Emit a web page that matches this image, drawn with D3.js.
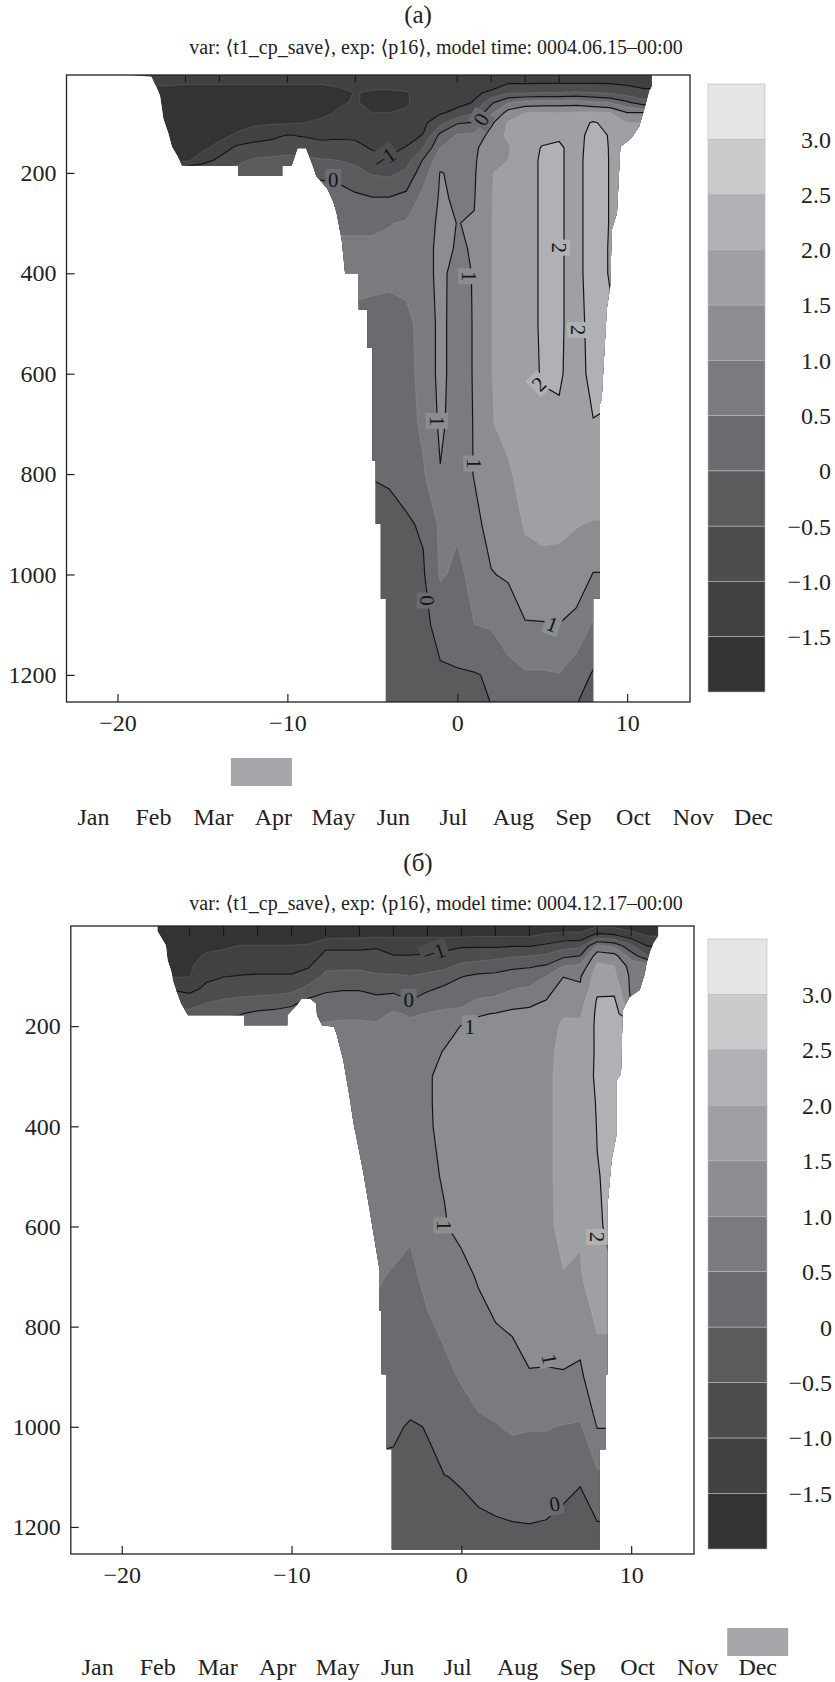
<!DOCTYPE html>
<html>
<head>
<meta charset="utf-8">
<script src="https://cdn.jsdelivr.net/npm/d3@7"></script>
<style>
  body { margin: 0; background: #fff; }
</style>
</head>
<body>
<script>
// ---- data ----
var gridCols = [-20,-19,-18,-17,-16,-15,-14,-13,-12,-11,-10,-9,-8,-7,-6,-5,-4,-3,-2,-1,0,1,2,3,4,5,6,7,8,9,10,11,12];
var depthRows = [0,20,40,60,80,100,125,150,175,200,250,300,350,400,500,600,700,800,900,1000,1100,1200,1250];

var levels = [-1.5,-1,-0.5,0,0.5,1,1.5,2,2.5,3];
var bandColors = ["#323334","#404143","#4c4d4f","#5a5b5d","#6a6b6e","#7a7b7e","#8c8d90","#9fa0a3","#b0b1b4","#cacbcd","#e4e5e7"];
var colorbarLabels = ["3.0","2.5","2.0","1.5","1.0","0.5","0","\u22120.5","\u22121.0","\u22121.5"];
var depthTicks = [200,400,600,800,1000,1200];
var xTicks = [-20,-10,0,10];
var months = ["Jan","Feb","Mar","Apr","May","Jun","Jul","Aug","Sep","Oct","Nov","Dec"];

// temperature, panel (a): one string per depth row, columns = gridCols, "." = outside data
var tempA = [
"-1.6 -1.6 -1.5 -1.3 -1.3 -1.3 -1.3 -1.3 -1.3 -1.3 -1.3 -1.3 -1.3 -1.2 -1.2 -1.2 -1.2 -1.2 -1.2 -1.2 -1.2 -1.2 -1.2 -1.2 -1.2 -1.2 -1.2 -1.2 -1.2 -1.2 -1.2 -1.2 .",
". . -1.45 -1.45 -1.45 -1.45 -1.45 -1.45 -1.45 -1.45 -1.45 -1.45 -1.45 -1.4 -1.4 -1.35 -1.35 -1.35 -1.25 -1.2 -1.2 -1.15 -1.15 -1.05 -1.05 -1.05 -1.05 -1.05 -1.05 -1.05 -1.1 -1.15 .",
". . . -1.6 -1.7 -1.7 -1.7 -1.7 -1.7 -1.7 -1.7 -1.7 -1.7 -1.62 -1.48 -1.55 -1.55 -1.52 -1.38 -1.25 -1.15 -1.05 -0.95 -0.55 -0.55 -0.5 -0.5 -0.45 -0.5 -0.6 -0.75 -0.9 .",
". . . -1.7 -1.7 -1.7 -1.7 -1.7 -1.7 -1.7 -1.7 -1.7 -1.7 -1.55 -1.47 -1.6 -1.6 -1.55 -1.3 -1.2 -1.1 -0.98 -0.1 0.5 0.7 0.75 0.75 0.8 0.6 0.5 0.1 -0.3 .",
". . . -1.7 -1.7 -1.7 -1.7 -1.7 -1.7 -1.7 -1.7 -1.68 -1.62 -1.45 -1.4 -1.5 -1.5 -1.45 -1.2 -1.05 -0.9 -0.55 0.4 1.2 1.5 1.5 1.5 1.55 1.6 1.5 1.0 . .",
". . . -1.7 -1.7 -1.7 -1.7 -1.65 -1.6 -1.55 -1.55 -1.5 -1.4 -1.3 -1.3 -1.35 -1.35 -1.3 -1.1 -0.7 -0.05 0.02 0.9 1.55 1.75 1.8 1.8 1.8 2.05 1.85 1.5 . .",
". . . -1.7 -1.7 -1.65 -1.62 -1.45 -1.25 -1.15 -0.98 -1.05 -1.1 -1.07 -1.1 -1.2 -1.25 -1.15 -0.98 0.15 0.55 0.6 1.2 1.6 1.8 1.9 1.92 1.85 2.15 1.97 1.8 . .",
". . . -1.7 -1.7 -1.6 -1.35 -0.9 -0.8 -0.75 -0.7 -0.7 -0.85 -0.85 -0.85 -1.05 -1.1 -0.98 -0.5 0.5 0.8 0.85 1.45 1.45 1.85 2.02 2.08 1.8 2.25 1.97 . . .",
". . . -1.65 -1.6 -1.25 -0.85 -0.6 -0.45 -0.4 -0.35 -0.4 -0.45 -0.5 -0.6 -0.8 -0.95 -0.7 0.05 0.8 0.9 0.92 1.48 1.5 1.85 2.05 2.08 1.8 2.3 1.97 . . .",
". . . . . . . -0.35 -0.2 -0.15 -0.1 -0.1 -0.1 -0.15 -0.35 -0.55 -0.6 -0.4 0.3 1.02 0.92 0.95 1.48 1.65 1.85 2.05 2.08 1.8 2.3 1.97 . . .",
". . . . . . . . . . . . 0.25 0.2 0.1 0.02 0.02 0.15 0.65 1.05 0.95 0.98 1.48 1.75 1.85 2.05 2.08 1.8 2.3 1.97 . . .",
". . . . . . . . . . . . 0.45 0.45 0.45 0.45 0.48 0.55 0.8 1.08 0.995 1.02 1.48 1.8 1.85 2.05 2.08 1.8 2.3 1.97 . . .",
". . . . . . . . . . . . 0.55 0.55 0.55 0.55 0.6 0.7 0.85 1.1 0.97 1.02 1.48 1.8 1.85 2.05 2.08 1.8 2.3 1.95 . . .",
". . . . . . . . . . . . 0.6 0.6 0.62 0.6 0.62 0.68 0.85 1.1 0.85 1.03 1.48 1.8 1.85 2.05 2.08 1.8 2.3 1.95 . . .",
". . . . . . . . . . . . 0.4 0.4 0.4 0.38 0.3 0.35 0.7 1.12 0.8 1.03 1.48 1.8 1.85 2.05 2.08 1.8 2.2 2.1 . . .",
". . . . . . . . . . . . 0.3 0.3 0.3 0.25 0.25 0.3 0.7 1.12 0.8 1.03 1.48 1.8 1.85 2.03 2.06 1.8 2.15 2.1 . . .",
". . . . . . . . . . . . 0.25 0.25 0.25 0.22 0.25 0.3 0.6 1.08 0.8 1.02 1.48 1.6 1.85 1.9 1.92 1.85 1.98 1.95 . . .",
". . . . . . . . . . . . 0.05 0.05 0.05 0.02 0.05 0.15 0.45 0.98 0.75 1.02 1.4 1.45 1.65 1.75 1.8 1.75 1.85 1.85 . . .",
". . . . . . . . . . . . -0.15 -0.15 -0.15 -0.15 -0.12 -0.05 0.05 0.6 0.55 0.88 1.15 1.25 1.55 1.56 1.55 1.52 1.47 1.47 . . .",
". . . . . . . . . . . . -0.25 -0.25 -0.25 -0.25 -0.2 -0.15 -0.05 0.55 0.42 0.6 0.98 1.05 1.3 1.42 1.42 1.3 0.98 0.98 . . .",
". . . . . . . . . . . . -0.3 -0.3 -0.3 -0.3 -0.3 -0.25 -0.15 0.2 0.3 0.5 0.55 0.75 0.97 0.97 0.99 0.85 0.45 0.45 . . .",
". . . . . . . . . . . . -0.3 -0.3 -0.3 -0.3 -0.3 -0.28 -0.2 -0.08 -0.05 -0.03 0.05 0.35 0.45 0.45 0.48 0.25 -0.05 -0.05 . . .",
". . . . . . . . . . . . -0.3 -0.3 -0.3 -0.3 -0.3 -0.28 -0.22 -0.12 -0.1 -0.08 0.01 0.25 0.35 0.38 0.4 0.02 -0.1 -0.1 . . ."
];

// temperature, panel (б)
var tempB = [
". . -1.8 -1.8 -1.8 -1.8 -1.8 -1.8 -1.8 -1.8 -1.8 -1.8 -1.8 -1.8 -1.8 -1.8 -1.8 -1.8 -1.8 -1.8 -1.8 -1.8 -1.8 -1.8 -1.8 -1.8 -1.8 -1.8 -1.55 -1.6 -1.8 -1.8 .",
". . -1.8 -1.8 -1.8 -1.75 -1.75 -1.75 -1.7 -1.7 -1.7 -1.7 -1.65 -1.6 -1.6 -1.55 -1.55 -1.55 -1.55 -1.55 -1.55 -1.52 -1.52 -1.52 -1.52 -1.4 -1.3 -1.3 -0.8 -0.9 -1.2 -1.5 .",
". . . -1.75 -1.7 -1.6 -1.55 -1.48 -1.48 -1.48 -1.48 -1.45 -1.1 -1.1 -1.1 -1.05 -1.2 -1.2 -1.15 -1.1 -1.05 -1.05 -1.05 -1.02 -1.02 -0.9 -0.7 -0.6 0.6 0.4 -0.4 -1.02 .",
". . . -1.7 -1.6 -1.45 -1.4 -1.35 -1.35 -1.35 -1.35 -1.3 -0.85 -0.85 -0.85 -0.85 -0.98 -0.98 -0.95 -0.9 -0.75 -0.7 -0.65 -0.55 -0.5 -0.4 -0.1 0.02 1.3 1.2 0.3 -0.5 .",
". . . -1.65 -1.55 -1.3 -1.25 -1.2 -1.2 -1.2 -1.2 -1.05 -0.6 -0.6 -0.6 -0.65 -0.7 -0.75 -0.7 -0.6 -0.4 -0.3 -0.2 -0.1 -0.05 0.05 0.5 0.6 1.6 1.5 0.8 . .",
". . . -1.55 -1.52 -1.1 -1.02 -0.98 -0.95 -0.95 -0.95 -0.8 -0.4 -0.35 -0.35 -0.45 -0.45 -0.5 -0.4 -0.3 -0.02 0.08 0.1 0.2 0.25 0.5 0.98 0.95 1.75 1.6 0.9 . .",
". . . -1.05 -1.15 -0.9 -0.75 -0.7 -0.7 -0.7 -0.65 -0.35 -0.1 -0.05 -0.05 -0.15 -0.15 -0.25 -0.1 0.1 0.2 0.3 0.35 0.48 0.55 0.8 1.2 1.05 1.9 1.85 0.9 . .",
". . . -0.7 -0.75 -0.55 -0.45 -0.4 -0.35 -0.3 -0.15 0.1 0.2 0.25 0.25 0.15 0.25 0.02 0.3 0.4 0.4 0.55 0.6 0.8 0.9 1.02 1.35 1.3 2.05 2.1 0.95 . .",
". . . -0.4 -0.35 -0.2 -0.1 -0.02 0.1 0.15 0.2 0.35 0.4 0.45 0.45 0.4 0.55 0.45 0.52 0.55 0.6 0.95 1.02 1.1 1.1 1.15 1.45 1.45 2.1 2.2 1.5 . .",
". . . . . . . 0.2 0.3 0.35 0.4 0.52 0.55 0.55 0.55 0.55 0.62 0.6 0.65 0.75 1.02 1.15 1.15 1.2 1.2 1.25 1.6 1.58 2.1 2.25 . . .",
". . . . . . . . . . . . 0.65 0.65 0.65 0.65 0.7 0.72 0.8 1.03 1.15 1.2 1.25 1.3 1.3 1.35 1.65 1.65 2.08 2.25 . . .",
". . . . . . . . . . . . 0.7 0.7 0.72 0.72 0.75 0.8 0.96 1.1 1.2 1.22 1.28 1.32 1.35 1.4 1.65 1.65 2.1 2.2 . . .",
". . . . . . . . . . . . 0.72 0.72 0.75 0.75 0.78 0.82 0.96 1.1 1.2 1.22 1.28 1.35 1.35 1.4 1.65 1.6 2.05 2.15 . . .",
". . . . . . . . . . . . 0.75 0.75 0.78 0.78 0.8 0.85 0.96 1.08 1.2 1.22 1.28 1.35 1.35 1.4 1.65 1.6 2.02 2.1 . . .",
". . . . . . . . . . . . 0.8 0.8 0.8 0.82 0.85 0.88 0.95 1.02 1.18 1.22 1.28 1.35 1.35 1.4 1.65 1.6 1.98 2.1 . . .",
". . . . . . . . . . . . 0.85 0.85 0.85 0.8 0.7 0.55 0.8 0.98 1.08 1.22 1.28 1.32 1.32 1.4 1.62 1.55 1.95 2.1 . . .",
". . . . . . . . . . . . 0.55 0.55 0.55 0.55 0.45 0.42 0.6 0.8 0.9 1.03 1.2 1.25 1.25 1.35 1.48 1.45 1.9 2.0 . . .",
". . . . . . . . . . . . 0.4 0.4 0.4 0.4 0.35 0.35 0.45 0.56 0.75 0.9 0.98 1.05 1.15 1.2 1.3 1.1 1.55 1.55 . . .",
". . . . . . . . . . . . 0.3 0.3 0.3 0.3 0.25 0.3 0.3 0.42 0.53 0.62 0.7 0.8 0.97 0.95 0.95 0.95 1.2 1.2 . . .",
". . . . . . . . . . . . 0.15 0.15 0.15 0.15 0.08 -0.05 0.02 0.25 0.35 0.45 0.48 0.55 0.52 0.52 0.48 0.45 1.02 1.02 . . .",
". . . . . . . . . . . . -0.15 -0.15 -0.15 -0.15 -0.12 -0.1 -0.08 -0.01 0.03 0.12 0.18 0.25 0.3 0.3 0.12 0.03 0.4 0.4 . . .",
". . . . . . . . . . . . -0.2 -0.2 -0.2 -0.2 -0.2 -0.2 -0.15 -0.12 -0.1 -0.08 -0.05 -0.03 -0.02 -0.05 -0.1 -0.12 -0.05 -0.05 . . .",
". . . . . . . . . . . . -0.2 -0.2 -0.2 -0.2 -0.2 -0.2 -0.18 -0.15 -0.12 -0.1 -0.08 -0.06 -0.05 -0.08 -0.12 -0.15 -0.1 -0.1 . . ."
];

// outline of the area that has data, [x, depth]
var maskA = [[-19.6,0],[11.45,0],[11.45,28],[11.3,36],[11.1,62],[10.9,85],[10.7,108],[10.3,128],[10.1,135],[9.6,148],
  [9.4,280],[9.1,313],[9.0,426],[8.8,472],[8.5,651],[8.4,660],[8.4,1048],[8.0,1048],[8.0,1260],[-4.2,1260],[-4.2,1048],
  [-4.5,1048],[-4.5,899],[-4.8,899],[-4.8,773],[-5.0,773],[-5.0,548],[-5.3,548],[-5.3,472],[-5.8,472],[-5.8,400],[-6.6,400],
  [-6.8,333],[-7.1,280],[-7.3,257],[-7.65,231],[-8.3,206],[-8.5,186],[-8.9,151],[-9.4,151],[-9.75,186],[-10.3,186],
  [-10.3,206],[-12.9,206],[-12.9,186],[-16.2,186],[-16.5,165],[-16.8,148],[-17.0,122],[-17.3,92],[-17.5,46],[-17.75,26],
  [-18.0,8],[-19.6,5]];
var maskB = [[-17.9,0],[11.6,0],[11.6,19],[11.3,35],[11.1,52],[10.9,75],[10.8,95],[10.5,128],[9.9,142],[9.5,168],
  [9.4,294],[9.15,308],[9.15,414],[8.85,467],[8.6,560],[8.6,895],[8.5,895],[8.5,1045],[8.15,1045],[8.15,1245],[-4.1,1245],
  [-4.1,1045],[-4.4,1045],[-4.4,895],[-4.7,895],[-4.7,769],[-4.85,769],[-4.85,680],[-5.4,567],[-5.8,487],[-6.15,427],
  [-6.35,394],[-6.55,348],[-6.95,268],[-7.35,215],[-7.5,201],[-8.2,198],[-8.5,178],[-8.55,155],[-8.9,145],[-9.4,145],
  [-9.7,158],[-10.25,178],[-10.25,198],[-12.8,198],[-12.8,178],[-16.1,178],[-16.5,155],[-16.75,132],[-16.95,112],
  [-17.1,89],[-17.3,69],[-17.4,39],[-17.9,10]];

// contour labels
var labelsA = [
  {v:-4.3, d:171, t:"\u22121", a:-35}, {v:-7.3, d:214, t:"0", a:0}, {v:1.4, d:93, t:"0", a:-60},
  {v:0.7, d:406, t:"1", a:90}, {v:-1.2, d:694, t:"1", a:90}, {v:1.0, d:779, t:"1", a:90},
  {v:5.6, d:1099, t:"1", a:20}, {v:-1.74, d:1052, t:"0", a:90},
  {v:6.0, d:349, t:"2", a:90}, {v:7.1, d:513, t:"2", a:90}, {v:4.8, d:620, t:"2", a:-45}
];
var labelsB = [
  {v:-1.6, d:53, t:"\u22121", a:-20}, {v:-3.1, d:147, t:"0", a:0}, {v:0.5, d:200, t:"1", a:0},
  {v:-1.0, d:598, t:"1", a:90}, {v:8.0, d:621, t:"2", a:90}, {v:5.2, d:865, t:"1", a:80},
  {v:5.5, d:1154, t:"0", a:-10}
];

// short contour stubs at the surface
var surfaceStubsA = [-16,-14,-10,-6,0,2,4,6];
var surfaceStubsB = [-16,-14,-12,-10,-8,-6,-4,-2,0,2,4,6,8,10];

var markerA = 2.8, markerB = 11.0; // month position of the grey box

var subtitleA = "var: \u27e8t1_cp_save\u27e9, exp: \u27e8p16\u27e9, model time: 0004.06.15\u201300:00";
var subtitleB = "var: \u27e8t1_cp_save\u27e9, exp: \u27e8p16\u27e9, model time: 0004.12.17\u201300:00";

// ---- layout ----
var serif = "'Liberation Serif', 'DejaVu Serif', serif";
var panelA = {id:"pa", title:"(a)", sub:subtitleA, left:66.5, right:690, top:75, bottom:702, dTop:5, dBot:1254,
  titleY:23, subY:54, cbX:708, cbW:57, cbTop:84, cbBot:692, cbLabelX:831,
  monthL:93.4, monthR:753.4, monthY:825, boxY:758};
var panelB = {id:"pb", title:"(\u0431)", sub:subtitleB, left:70.8, right:694, top:926, bottom:1554, dTop:0, dBot:1254,
  titleY:871, subY:910, cbX:708, cbW:59, cbTop:939, cbBot:1549, cbLabelX:832,
  monthL:97.7, monthR:757.7, monthY:1675, boxY:1628};

var svg = d3.select("body").append("svg")
    .attr("width", 835)
    .attr("height", 1682);
var defs = svg.append("defs");

function parseGrid(rows, n) {
    var out = [];
    rows.forEach(function (r, k) {
        var cells = r.trim().split(/\s+/).map(function (s) { return s === "." ? NaN : +s; });
        if (cells.length !== n) throw new Error("row " + k + " has " + cells.length);
        var ok = [];
        cells.forEach(function (v, i) { if (!isNaN(v)) ok.push(i); });
        cells = cells.map(function (v, i) {
            if (!isNaN(v)) return v;
            var best = ok.reduce(function (a, b) { return Math.abs(b - i) < Math.abs(a - i) ? b : a; });
            return cells[best];
        });
        out = out.concat(cells);
    });
    return out;
}

function drawPanel(p, rows, mask, labels, stubs, marker) {
    var x = d3.scaleLinear().domain([-23, 13.7]).range([p.left, p.right]);
    var y = d3.scaleLinear().domain([p.dTop, p.dBot]).range([p.top, p.bottom]);
    var nx = gridCols.length, ny = depthRows.length;
    var col = d3.scaleLinear().domain(d3.range(nx)).range(gridCols);
    var row = d3.scaleLinear().domain(d3.range(ny)).range(depthRows);
    var values = parseGrid(rows, nx);

    var proj = d3.geoTransform({
        point: function (px, py) { this.stream.point(x(col(px - 0.5)), y(row(py - 0.5))); }
    });
    var path = d3.geoPath(proj);
    var maskPath = d3.line()(mask.map(function (m) { return [x(m[0]), y(m[1])]; })) + "Z";

    defs.append("clipPath").attr("id", p.id + "-frame").append("rect")
        .attr("x", p.left).attr("y", p.top)
        .attr("width", p.right - p.left).attr("height", p.bottom - p.top);
    defs.append("clipPath").attr("id", p.id + "-mask").append("path").attr("d", maskPath);

    var outer = svg.append("g").attr("clip-path", "url(#" + p.id + "-frame)");
    var g = outer.append("g").attr("clip-path", "url(#" + p.id + "-mask)");

    g.append("path").attr("d", maskPath).attr("fill", bandColors[0]);

    var cs = d3.contours().size([nx, ny]).thresholds(levels)(values);

    g.selectAll("path.band")
        .data(cs)
        .join("path")
        .attr("class", "band")
        .attr("d", path)
        .attr("fill", function (d, i) { return bandColors[i + 1]; })
        .attr("stroke", "rgba(255,255,255,0.16)")
        .attr("stroke-width", 0.7);

    g.selectAll("path.iso")
        .data(cs.filter(function (c) { return Number.isInteger(c.value); }))
        .join("path")
        .attr("class", "iso")
        .attr("d", path)
        .attr("fill", "none")
        .attr("stroke", "#141414")
        .attr("stroke-width", 1.2);

    g.selectAll("line.stub")
        .data(stubs)
        .join("line")
        .attr("class", "stub")
        .attr("x1", function (d) { return x(d); })
        .attr("x2", function (d) { return x(d); })
        .attr("y1", y(0))
        .attr("y2", y(20))
        .attr("stroke", "#141414")
        .attr("stroke-width", 1);

    var lab = g.selectAll("g.lab")
        .data(labels)
        .join("g")
        .attr("class", "lab")
        .attr("transform", function (d) { return "translate(" + x(d.v) + "," + y(d.d) + ") rotate(" + d.a + ")"; });
    lab.append("rect")
        .attr("x", function (d) { return -d.t.length * 6 - 2; })
        .attr("y", -11)
        .attr("width", function (d) { return d.t.length * 12 + 4; })
        .attr("height", 22)
        .attr("fill", function (d) {
            var val = +d.t.replace("\u2212", "-");
            return bandColors[levels.indexOf(val) + 1];
        });
    lab.append("text")
        .attr("text-anchor", "middle")
        .attr("dy", "0.35em")
        .attr("font-family", serif)
        .attr("font-size", 21)
        .attr("fill", "#151515")
        .text(function (d) { return d.t; });

    // axes
    var ay = svg.append("g")
        .attr("transform", "translate(" + p.left + ",0)")
        .call(d3.axisLeft(y).tickValues(depthTicks).tickSize(-8).tickPadding(10).tickFormat(d3.format("d")));
    var ax = svg.append("g")
        .attr("transform", "translate(0," + p.bottom + ")")
        .call(d3.axisBottom(x).tickValues(xTicks).tickSize(-8).tickPadding(12));
    [ay, ax].forEach(function (a) {
        a.select(".domain").remove();
        a.selectAll("line").attr("stroke", "#222").attr("stroke-width", 1.2);
        a.selectAll("text").attr("font-family", serif).attr("font-size", 24).attr("fill", "#222");
    });

    svg.append("rect")
        .attr("x", p.left).attr("y", p.top)
        .attr("width", p.right - p.left).attr("height", p.bottom - p.top)
        .attr("fill", "none").attr("stroke", "#222").attr("stroke-width", 1.3);

    // colour bar
    var cbY = d3.scaleLinear().domain([0, bandColors.length]).range([p.cbTop, p.cbBot]);
    svg.append("g").selectAll("rect")
        .data(bandColors.slice().reverse())
        .join("rect")
        .attr("x", p.cbX)
        .attr("y", function (d, i) { return cbY(i); })
        .attr("width", p.cbW)
        .attr("height", function (d, i) { return cbY(i + 1) - cbY(i); })
        .attr("fill", function (d) { return d; })
        .attr("stroke", "#b8b8b8")
        .attr("stroke-width", 0.6);
    svg.append("g").selectAll("text")
        .data(colorbarLabels)
        .join("text")
        .attr("x", p.cbLabelX)
        .attr("y", function (d, i) { return cbY(i + 1); })
        .attr("dy", "0.35em")
        .attr("text-anchor", "end")
        .attr("font-family", serif)
        .attr("font-size", 24)
        .attr("fill", "#222")
        .text(function (d) { return d; });

    // titles
    svg.append("text")
        .attr("x", 418).attr("y", p.titleY)
        .attr("text-anchor", "middle")
        .attr("font-family", serif).attr("font-size", 25).attr("fill", "#222")
        .text(p.title);
    svg.append("text")
        .attr("x", 436).attr("y", p.subY)
        .attr("text-anchor", "middle")
        .attr("font-family", serif).attr("font-size", 20).attr("fill", "#222")
        .text(p.sub);

    // months row with marker box
    var m = d3.scaleLinear().domain([0, months.length - 1]).range([p.monthL, p.monthR]);
    svg.append("rect")
        .attr("x", m(marker) - 30.5).attr("y", p.boxY)
        .attr("width", 61).attr("height", 28)
        .attr("fill", "#a6a7aa");
    svg.append("g").selectAll("text")
        .data(months)
        .join("text")
        .attr("x", function (d, i) { return m(i); })
        .attr("y", p.monthY)
        .attr("text-anchor", "middle")
        .attr("font-family", serif).attr("font-size", 24).attr("fill", "#222")
        .text(function (d) { return d; });
}

drawPanel(panelA, tempA, maskA, labelsA, surfaceStubsA, markerA);
drawPanel(panelB, tempB, maskB, labelsB, surfaceStubsB, markerB);
</script>
</body>
</html>
